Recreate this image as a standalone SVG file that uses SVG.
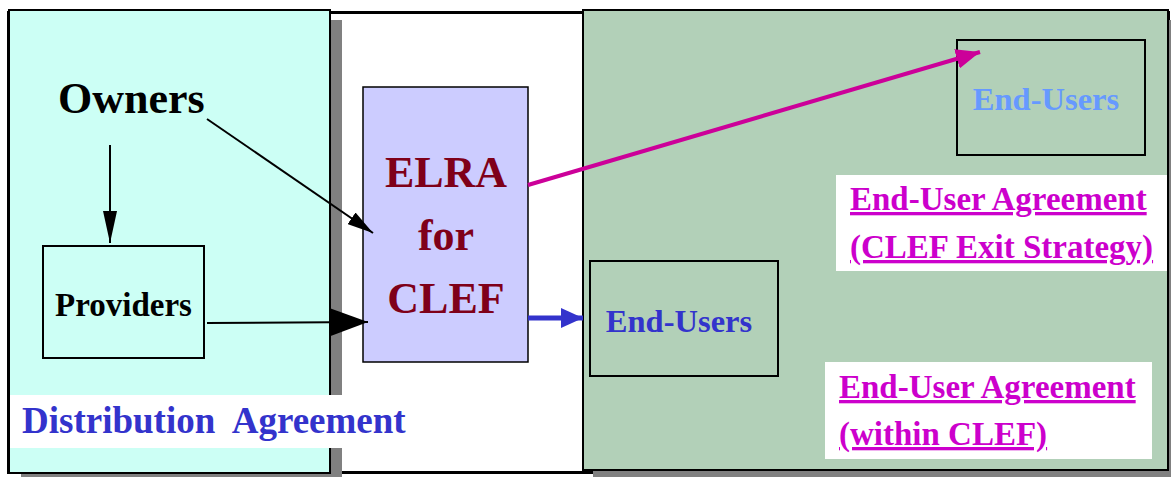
<svg xmlns="http://www.w3.org/2000/svg" width="1171" height="477" viewBox="0 0 1171 477">
<style>
text{font-family:"Liberation Serif","Times New Roman",serif;font-weight:bold}
.box{stroke:#000;stroke-width:2}
.shadow{fill:#808080}
.bg{fill:#fff}
.lbl{fill:#cc00cc;font-size:33px;text-decoration:underline;text-decoration-thickness:3px;text-underline-offset:5px;text-decoration-skip-ink:none}
.conn{fill:none;stroke:#000;stroke-width:2}
</style>
<defs>
<marker id="ahV" markerUnits="userSpaceOnUse" markerWidth="32" markerHeight="14" refX="32" refY="7" orient="auto"><path d="M0,0 L32,7 L0,14 Z" fill="#000"/></marker>
<marker id="ah" markerUnits="userSpaceOnUse" markerWidth="26" markerHeight="14" refX="26" refY="7" orient="auto"><path d="M0,0 L26,7 L0,14 Z" fill="#000"/></marker>
<marker id="ahBig" markerUnits="userSpaceOnUse" markerWidth="38" markerHeight="28" refX="38" refY="14" orient="auto"><path d="M0,0 L38,14 L0,28 Z" fill="#000"/></marker>
<marker id="ahBlue" markerUnits="userSpaceOnUse" markerWidth="22" markerHeight="20" refX="22" refY="10" orient="auto"><path d="M0,0 L22,10 L0,20 Z" fill="#3333cc"/></marker>
<marker id="ahPink" markerUnits="userSpaceOnUse" markerWidth="24" markerHeight="20" refX="24" refY="10" orient="auto"><path d="M0,0 L24,10 L0,20 Z" fill="#cc0099"/></marker>
</defs>

<g id="frame">
<rect x="8.5" y="12.5" width="1160" height="460" fill="#fff" stroke="#000" stroke-width="3"/>
</g>

<g id="distribution-panel">
<rect class="shadow" x="21" y="20" width="321" height="463"/>
<rect class="box" x="9" y="10" width="321" height="463" fill="#ccfff5"/>
</g>

<g id="enduser-panel">
<rect class="shadow" x="593" y="20" width="585" height="460"/>
<rect class="box" x="583" y="10" width="585" height="460" fill="#b2d0b8"/>
</g>

<g id="distribution-label">
<rect class="bg" x="10" y="395" width="332" height="53"/>
<text x="22" y="433" font-size="37" fill="#3333cc" xml:space="preserve">Distribution  Agreement</text>
</g>

<g id="owners">
<text x="58" y="113" font-size="44" fill="#000">Owners</text>
</g>

<g id="providers">
<rect class="box" x="43" y="246" width="161" height="112" fill="none"/>
<text x="123.5" y="316" font-size="33" text-anchor="middle" fill="#000">Providers</text>
</g>

<g id="elra">
<rect x="363" y="87" width="165" height="275" fill="#ccccff" stroke="#000" stroke-width="1.5"/>
<text x="446" y="187" font-size="44" text-anchor="middle" fill="#7f0019">ELRA</text>
<text x="446" y="250" font-size="44" text-anchor="middle" fill="#7f0019">for</text>
<text x="446" y="313" font-size="44" text-anchor="middle" fill="#7f0019">CLEF</text>
</g>

<g id="endusers-exit">
<rect class="box" x="957" y="40" width="188" height="115" fill="none"/>
<text x="1046" y="110" font-size="32.5" text-anchor="middle" fill="#6699ff">End-Users</text>
</g>

<g id="endusers-within">
<rect class="box" x="590" y="261" width="188" height="115" fill="none"/>
<text x="679" y="332" font-size="32.5" text-anchor="middle" fill="#3333cc">End-Users</text>
</g>

<g id="label-exit">
<rect class="bg" x="836" y="175" width="331" height="96"/>
<text class="lbl" x="850" y="210">End-User Agreement</text>
<text class="lbl" x="850" y="258">(CLEF Exit Strategy)</text>
</g>

<g id="label-within">
<rect class="bg" x="825" y="362" width="327" height="97"/>
<text class="lbl" x="839" y="398">End-User Agreement</text>
<text class="lbl" x="839" y="445">(within CLEF)</text>
</g>

<g id="connectors">
<line class="conn" x1="110" y1="145" x2="110" y2="243" marker-end="url(#ahV)"/>
<line class="conn" x1="207" y1="119" x2="373" y2="233" marker-end="url(#ah)"/>
<line class="conn" x1="207" y1="323" x2="368" y2="322" marker-end="url(#ahBig)"/>
<line x1="528" y1="318" x2="583" y2="318" stroke="#3333cc" stroke-width="5" marker-end="url(#ahBlue)"/>
<line x1="528" y1="185" x2="980" y2="52" stroke="#cc0099" stroke-width="4" marker-end="url(#ahPink)"/>
</g>
</svg>
